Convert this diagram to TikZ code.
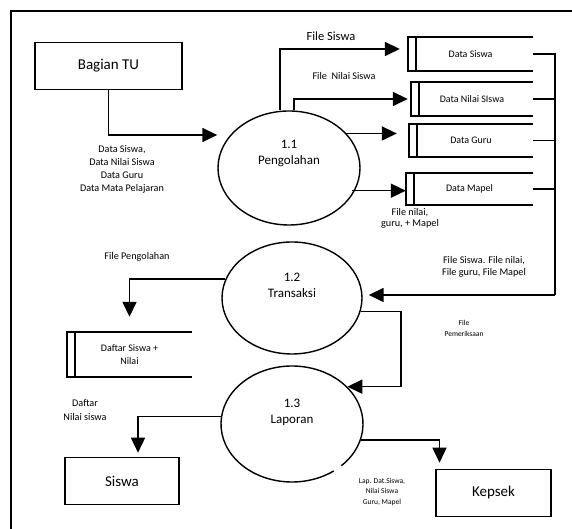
\documentclass[tikz,border=0pt]{standalone}
\usepackage{fontspec}
\setmainfont{Carlito}
\usetikzlibrary{arrows.meta,shapes.geometric}

\tikzset{
  entity/.style={draw, line width=1.6pt, inner sep=0pt, minimum height=47pt, font=\fontsize{15}{18}\selectfont},
  process/.style={ellipse, draw, line width=1.4pt, inner sep=0pt, minimum width=142pt, minimum height=114pt},
  ptext/.style={font=\fontsize{13}{16}\selectfont, align=center},
  store/.style={inner sep=0pt, minimum height=34pt, align=center, font=\fontsize{10}{13}\selectfont},
  storeline/.style={line width=1.6pt},
  flow/.style={line width=1.6pt, -{Triangle[length=15pt,width=14pt]}},
  lbl/.style={align=center, font=\fontsize{10.2}{13}\selectfont},
  tinylbl/.style={align=center, font=\fontsize{7.5}{10.5}\selectfont}
}

\begin{document}
\begin{tikzpicture}[x=1pt,y=1pt]
  \useasboundingbox (0,0) rectangle (572,529);
  % frame
  \draw[line width=1.4pt] (11,0) -- (11,518) -- (572,518);

  % external entities
  \node[entity, minimum width=147pt] (tu) at (108.5,463) {Bagian TU};
  \node[entity, minimum width=114pt] (siswa) at (122,48) {Siswa};
  \node[entity, minimum width=115pt] (kepsek) at (493.5,36) {Kepsek};

  % processes
  \node[process, label={[ptext, yshift=15pt]center:1.1\\Pengolahan}] (p1) at (289,361) {};
  \node[process, minimum width=140pt, minimum height=112pt,
        label={[ptext, yshift=13pt]center:1.2\\Transaksi}] (p2) at (292,231) {};
  \node[process, draw=none, minimum height=116pt,
        label={[ptext, yshift=12pt]center:1.3\\Laporan}] (p3) at (292,105) {};
  \draw[line width=1.4pt] ([shift={(-46:71pt and 58pt)}]p3.center)
    arc[start angle=-46, end angle=306, x radius=71pt, y radius=58pt];

  % data stores
  \node[store, minimum width=125pt] (s1) at (470.5,475) {Data Siswa};
  \node[store, minimum width=122pt] (s2) at (472,430) {Data Nilai SIswa};
  \node[store, minimum width=124pt, minimum height=33pt] (s3) at (471,388.5) {Data Guru};
  \node[store, minimum width=127pt, minimum height=32pt] (s4) at (469.5,340) {Data Mapel};
  \node[store, minimum width=125pt, minimum height=45pt] (s5) at (129.5,174.5) {Daftar Siswa +\\Nilai};
  \foreach \s in {s1,s2,s3,s4,s5}{
    \draw[storeline] (\s.north east) -- (\s.north west) -- (\s.south west) -- (\s.south east);
    \draw[storeline] ([xshift=8pt]\s.north west) -- ([xshift=8pt]\s.south west);
  }

  % flows
  \draw[flow] (tu.south) |- ([yshift=33pt]p1.west);
  \draw[flow] ([xshift=-9pt]p1.north) |- ([xshift=-8pt,yshift=5pt]s1.west);
  \draw[flow] ([xshift=5pt]p1.north) |- ([xshift=-3pt]s2.west);
  \draw[flow, shorten >=12pt] (p1.31) -- (p1.31 -| s3.west);
  \draw[flow] ([xshift=-3pt]p1.-19) -- (p1.-19 -| s4.west);
  \coordinate (bus) at (555,234);
  \draw[storeline] (s1.east) -| (bus);
  \foreach \s in {s2,s3,s4} \draw[storeline] (\s.east) -- (\s.east -| bus);
  \draw[flow, shorten >=6pt] (bus) -- (bus -| p2.east);
  \draw[flow] (p2.-11) -- ++(40,0) |- (p3.34);
  \draw[flow] (p2.164) -| ([yshift=15pt]s5.north);
  \draw[flow] (p3.174) -| ([xshift=16pt,yshift=4pt]siswa.north);
  \draw[flow] (p3.-13) -| ([xshift=-54pt,yshift=6pt]kepsek.north);

  % labels
  \node[lbl] (ldata) at (122,360) {Data Siswa,\\Data Nilai Siswa\\Data Guru\\Data Mata Pelajaran};
  \node[font=\fontsize{12.5}{15}\selectfont] (lfsiswa) at (331,493) {File Siswa};
  \node[lbl] (lfnilai) at (344,453) {File\ \ Nilai Siswa};
  \node[lbl, font=\fontsize{10.2}{11.5}\selectfont] (lfguru) at (410,310.5) {File nilai,\\guru, + Mapel};
  \node[lbl, font=\fontsize{10.2}{12}\selectfont] (lfall) at (484,262) {File Siswa. File nilai,\\File guru, File Mapel};
  \node[tinylbl] (lperiksa) at (464,200.5) {File\\Pemeriksaan};
  \node[lbl] (lolah) at (137,272) {File Pengolahan};
  \node[lbl, font=\fontsize{10.2}{14}\selectfont] (ldaftar) at (85,119) {Daftar\\Nilai siswa};
  \node[tinylbl] (llap) at (382,37) {Lap. Dat.Siswa,\\Nilai Siswa\\Guru, Mapel};
\end{tikzpicture}
\end{document}
